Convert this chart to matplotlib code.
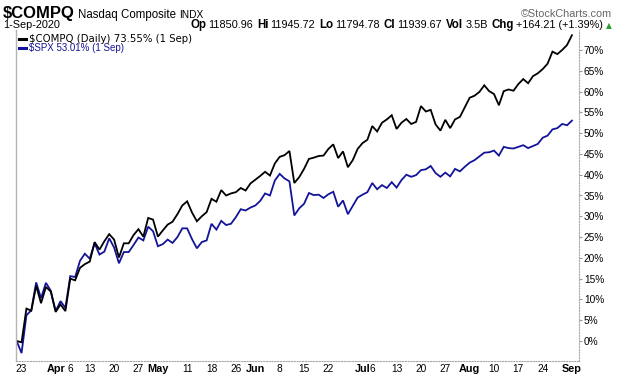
import matplotlib
matplotlib.use("Agg")
import matplotlib.pyplot as plt
from matplotlib.lines import Line2D
import pandas as pd

# ---- data (percent change since 20-Mar-2020) ----
holidays = ["2020-04-10", "2020-05-25", "2020-07-03"]
dates = [d for d in pd.bdate_range("2020-03-20", "2020-09-01")
         if d.strftime("%Y-%m-%d") not in holidays]

compq = [0.0, -0.3, 7.8, 7.3, 13.3, 9.1, 13.0, 11.9, 7.0, 8.8, 7.2,
         15.0, 14.6, 17.6, 18.5, 19.1, 23.8, 22.0, 24.0, 25.7,
         24.4, 20.1, 23.5, 23.5, 25.5, 26.9, 25.1, 29.6, 29.2, 25.1,
         26.6, 28.0, 28.7, 30.5, 32.6, 33.6, 30.9, 28.8, 30.0, 31.0,
         34.2, 33.5, 36.3, 35.0, 35.5, 35.8, 36.8, 36.2, 37.9,
         38.8, 39.7, 40.7, 39.8, 42.7, 44.3, 44.7, 45.7, 38.0, 39.4,
         41.4, 43.8, 44.1, 44.5, 44.6, 46.2, 47.3, 44.0, 45.6, 41.8,
         43.5, 46.2, 47.6, 48.4, 51.7, 50.4, 52.5, 53.3, 54.3,
         51.0, 52.5, 53.4, 52.2, 52.7, 56.5, 55.2, 55.6, 52.1, 50.6,
         53.2, 51.2, 53.3, 53.9, 56.2, 58.5, 59.0, 59.9, 61.5, 60.1,
         59.4, 56.7, 60.1, 60.5, 60.2, 61.8, 63.0, 62.0, 63.7, 64.4,
         65.4, 66.7, 69.6, 69.0, 70.0, 71.2, 73.55]

spx = [0.0, -2.9, 6.2, 7.4, 14.1, 10.3, 14.0, 12.1, 7.2, 9.6, 8.0,
       15.6, 15.4, 19.3, 21.0, 19.8, 23.5, 20.8, 21.5, 24.7,
       22.5, 18.7, 21.4, 21.4, 23.1, 24.9, 24.2, 27.5, 26.4, 22.8,
       23.3, 24.4, 23.6, 25.0, 27.1, 27.1, 24.5, 22.3, 23.8, 24.2,
       28.2, 26.8, 28.9, 27.9, 28.2, 29.8, 31.7, 31.4, 32.1,
       32.6, 33.7, 35.5, 35.0, 38.6, 40.2, 39.1, 38.4, 30.2, 31.9,
       33.0, 35.6, 35.1, 35.2, 34.4, 35.3, 35.9, 32.3, 33.8, 30.5,
       32.5, 34.5, 35.2, 35.8, 38.0, 36.5, 37.5, 36.8, 38.2,
       36.9, 38.7, 40.0, 39.5, 39.9, 41.1, 41.3, 42.1, 40.4, 39.5,
       40.5, 39.6, 41.4, 40.8, 41.9, 42.9, 43.5, 44.4, 45.3, 45.4,
       45.8, 44.6, 46.7, 46.4, 46.3, 46.7, 47.1, 46.4, 46.9, 47.4,
       48.9, 49.4, 50.9, 51.2, 52.2, 51.9, 53.01]

tick_dates = ["03-23", "04-01", "04-06", "04-13", "04-20", "04-27", "05-01",
              "05-11", "05-18", "05-26", "06-01", "06-08", "06-15", "06-22",
              "07-01", "07-06", "07-13", "07-20", "07-27", "08-03", "08-10",
              "08-17", "08-24", "09-01"]
tick_labels = ["23", "Apr", "6", "13", "20", "27", "May", "11", "18", "26",
               "Jun", "8", "15", "22", "Jul", "6", "13", "20", "27", "Aug",
               "10", "17", "24", "Sep"]
month_labels = {"Apr", "May", "Jun", "Jul", "Aug", "Sep"}
y_ticks = list(range(0, 75, 5))

assert len(dates) == len(compq) == len(spx)

# ---- figure ----
W, H = 620, 376
fig = plt.figure(figsize=(W / 100, H / 100), dpi=100)
fig.patch.set_facecolor("white")

def fx(px):
    return px / W

def fy(py):
    return 1 - py / H

L, R, T, B = 16, 579, 30, 361
ax = fig.add_axes([fx(L), fy(B), fx(R) - fx(L), fy(T) - fy(B)])
x = list(range(len(dates)))
ax.plot(x, spx, color="#14149a", lw=1.3, solid_joinstyle="miter")
ax.plot(x, compq, color="black", lw=1.3, solid_joinstyle="miter")

ax.set_xlim(-0.14, 115.45)
ax.set_ylim(-4.8, 74.8)

ax.yaxis.tick_right()
ax.set_yticks(y_ticks)
ax.set_yticklabels([f"{v}%" for v in y_ticks], fontsize=7.3, family="Liberation Sans")
ax.tick_params(axis="y", length=2, width=0.8, color="#999999", pad=1.5)

date_strs = [d.strftime("%m-%d") for d in dates]
tick_pos = [date_strs.index(t) for t in tick_dates]
ax.set_xticks(tick_pos)
ax.set_xticklabels(tick_labels, fontsize=7.3, family="Liberation Sans")
for lab in ax.get_xticklabels():
    if lab.get_text() in month_labels:
        lab.set_fontweight("bold")
        lab.set_fontsize(7.8)
ax.tick_params(axis="x", length=0, pad=2.5)

ax.spines["top"].set_visible(False)
ax.spines["left"].set_color("#b4b4b4")
ax.spines["left"].set_linewidth(1.0)
for s in ("right", "bottom"):
    ax.spines[s].set_color("#a8a8a8")
    ax.spines[s].set_linewidth(0.8)
    ax.spines[s].set_linestyle((0, (1, 1.5)))

# ---- legend inside plot ----
fig.add_artist(Line2D([fx(19), fx(26)], [fy(38.5), fy(38.5)], color="black", lw=2.2))
fig.text(fx(29), fy(38.5), r"\$COMPQ (Daily) 73.55% (1 Sep)", fontsize=7.3,
         family="DejaVu Sans", va="center", ha="left", color="black")
fig.add_artist(Line2D([fx(19), fx(26)], [fy(48), fy(48)], color="#14149a", lw=2.2))
fig.text(fx(29), fy(48), r"\$SPX 53.01% (1 Sep)", fontsize=7,
         family="Liberation Sans", va="center", ha="left", color="#14149a")

# ---- header ----
renderer = fig.canvas.get_renderer()

def chain(pieces, x0, y, right=None):
    texts = []
    xpos = x0
    for txt, weight, size, color, gap in pieces:
        t = fig.text(fx(xpos), fy(y), txt, fontsize=size, fontweight=weight,
                     color=color, family="Liberation Sans", va="baseline", ha="left")
        w = t.get_window_extent(renderer).width
        texts.append((t, xpos))
        xpos += w + gap
    if right is not None:
        shift = right - (xpos - pieces[-1][4])
        for t, xp in texts:
            t.set_x(fx(xp + shift))

chain([(r"\$COMPQ", "bold", 12, "black", 3),
       ("Nasdaq Composite", "normal", 8.3, "black", 3),
       ("INDX", "normal", 7.3, "black", 0)], 3, 18)
fig.text(fx(612), fy(17), "©StockCharts.com", fontsize=7.8, color="#666666",
         family="Liberation Sans", ha="right", va="baseline")

fig.text(fx(3), fy(28), "1-Sep-2020", fontsize=7.8, color="black",
         family="Liberation Sans", ha="left", va="baseline")
chain([("Op", "bold", 8.3, "black", 2), ("11850.96", "normal", 7.8, "black", 4),
       ("Hi", "bold", 8.3, "black", 2), ("11945.72", "normal", 7.8, "black", 4),
       ("Lo", "bold", 8.3, "black", 2), ("11794.78", "normal", 7.8, "black", 4),
       ("Cl", "bold", 8.3, "black", 2), ("11939.67", "normal", 7.8, "black", 4),
       ("Vol", "bold", 8.3, "black", 2), ("3.5B", "normal", 7.8, "black", 4),
       ("Chg", "bold", 8.3, "black", 2), ("+164.21 (+1.39%)", "normal", 7.8, "black", 0)],
      196, 28, right=603)
fig.text(fx(606), fy(28), "▲", fontsize=5.5, color="#2e9e2e",
         family="DejaVu Sans", ha="left", va="baseline")

fig.savefig("out.png", dpi=100, facecolor="white")
